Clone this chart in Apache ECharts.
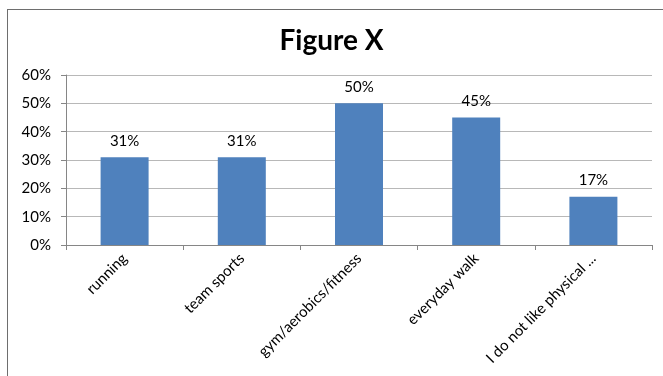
<!DOCTYPE html>
<html>
<head>
<meta charset="utf-8">
<script src="https://cdn.jsdelivr.net/npm/echarts@6/dist/echarts.min.js"></script>
<style>
  html, body { margin: 0; padding: 0; background: #fff; }
  #frame { position: absolute; left: 7px; top: 9px; width: 660px; height: 380px; border: 1px solid #6e6e6e; box-sizing: border-box; }
  #chart { width: 663px; height: 376px; position: absolute; left: 0; top: 0; }
</style>
</head>
<body>
<div id="frame"></div>
<div id="chart"></div>
<script>
// chart data
const categories = ['running', 'team sports', 'gym/aerobics/fitness', 'everyday walk', 'I do not like physical ...'];
const shares = [31, 31, 50, 45, 17];
const yTicks = [0, 10, 20, 30, 40, 50, 60];

const chart = echarts.init(document.getElementById('chart'), null, {renderer: 'canvas'});

const font = 'Lato';

chart.setOption({
    animation: false,
    title: {
        text: 'Figure X',
        left: 'center',
        top: 22,
        textStyle: {fontFamily: font, fontSize: 28, fontWeight: 'bold', color: '#000'}
    },
    grid: {left: 66, right: 11, top: 75, bottom: 131, containLabel: false},
    xAxis: {
        type: 'category',
        data: categories,
        axisLine: {lineStyle: {color: '#868686'}},
        axisTick: {show: true, alignWithLabel: false, length: 5, lineStyle: {color: '#868686'}},
        axisLabel: {rotate: 45, interval: 0, margin: 11, fontFamily: font, fontSize: 15, color: '#000'}
    },
    yAxis: {
        type: 'value',
        min: yTicks[0],
        max: yTicks[yTicks.length - 1],
        interval: 10,
        axisLine: {show: true, lineStyle: {color: '#868686'}},
        axisTick: {show: true, length: 5, lineStyle: {color: '#868686'}},
        splitLine: {lineStyle: {color: '#b8b8b8'}},
        axisLabel: {formatter: '{value}%', margin: 15, fontFamily: font, fontSize: 15, color: '#000'}
    },
    series: [{
        type: 'bar',
        data: shares,
        barWidth: 48,
        itemStyle: {color: '#4f81bd'},
        label: {
            show: true,
            position: 'top',
            distance: 9,
            formatter: '{c}%',
            fontFamily: font,
            fontSize: 15,
            color: '#000'
        }
    }]
});
</script>
</body>
</html>
